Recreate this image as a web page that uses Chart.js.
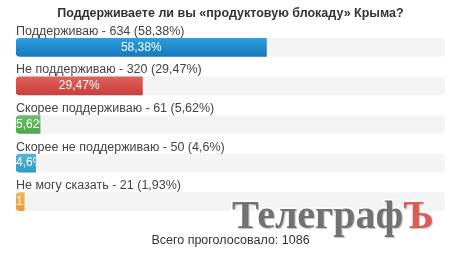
<!DOCTYPE html>
<html>
<head>
<meta charset="utf-8">
<script src="https://cdn.jsdelivr.net/npm/chart.js@4"></script>
<style>
  body { margin: 0; background: #fff; }
  #wrap { width: 450px; height: 253px; position: relative; }
</style>
</head>
<body>
<div id="wrap"><canvas id="pollChart"></canvas></div>
<script>
const title = "Поддерживаете ли вы «продуктовую блокаду» Крыма?";
const answers = ["Поддерживаю", "Не поддерживаю", "Скорее поддерживаю", "Скорее не поддерживаю", "Не могу сказать"];
const votes = [634, 320, 61, 50, 21];
const percents = [58.38, 29.47, 5.62, 4.6, 1.93];
const barTop = ["#2a9fe0", "#e0605b", "#67c067", "#55b5d8", "#f3b55c"];
const barBottom = ["#1679be", "#c9403b", "#4ca84c", "#319bc2", "#eb9d2f"];
const totalLabel = "Всего проголосовало: 1086";
const fullScale = answers.map(() => 100);

const fmt = v => String(v).replace(".", ",");
const FONT = "'Liberation Sans', Arial, sans-serif";

// vertical gradient per bar, like the bootstrap progress bars
function barFill(c) {
    const chart = c.chart;
    const i = c.dataIndex;
    if (!chart.chartArea || !chart.scales.y) return barTop[i];
    const y = chart.scales.y.getPixelForValue(i);
    const g = chart.ctx.createLinearGradient(0, y - 9, 0, y + 9);
    g.addColorStop(0, barTop[i]);
    g.addColorStop(1, barBottom[i]);
    return g;
}

const pollText = {
    id: "pollText",
    afterDatasetsDraw(chart) {
        const ctx = chart.ctx;
        const area = chart.chartArea;
        const cx = (area.left + area.right) / 2;
        const bars = chart.getDatasetMeta(1).data;
        ctx.save();
        ctx.textBaseline = "middle";

        // title
        ctx.fillStyle = "#333";
        ctx.font = "bold 12.5px " + FONT;
        ctx.textAlign = "center";
        ctx.fillText(title, cx, 14);

        bars.forEach((el, i) => {
            // answer label above the bar
            ctx.font = "12.5px " + FONT;
            ctx.fillStyle = "#444";
            ctx.textAlign = "left";
            ctx.fillText(answers[i] + " - " + votes[i] + " (" + fmt(percents[i]) + "%)", area.left, el.y - 16);

            // percent inside bar, clipped
            const left = Math.min(el.base, el.x);
            const w = Math.abs(el.x - el.base);
            const txt = fmt(percents[i]) + "%";
            ctx.font = "12px " + FONT;
            const tw = ctx.measureText(txt).width;
            ctx.save();
            ctx.beginPath();
            ctx.rect(left, el.y - el.height / 2, w, el.height);
            ctx.clip();
            ctx.fillStyle = "#fff";
            if (tw < w) {
                ctx.textAlign = "center";
                ctx.fillText(txt, left + w / 2, el.y);
            } else {
                ctx.textAlign = "left";
                ctx.fillText(txt, left, el.y);
            }
            ctx.restore();
        });

        // footer
        ctx.font = "12.5px " + FONT;
        ctx.fillStyle = "#333";
        ctx.textAlign = "center";
        ctx.fillText(totalLabel, cx, 241);

        // watermark
        ctx.font = "bold 40px 'Liberation Serif', 'Times New Roman', serif";
        ctx.textAlign = "left";
        ctx.textBaseline = "alphabetic";
        const wm1 = "Телеграф";
        const wm2 = "Ъ";
        const wx = 232, wy = 228;
        const w1 = ctx.measureText(wm1).width;
        ctx.lineWidth = 3;
        ctx.strokeStyle = "rgba(255,255,255,0.9)";
        ctx.strokeText(wm1, wx, wy);
        ctx.strokeText(wm2, wx + w1, wy);
        ctx.shadowColor = "rgba(0,0,0,0.25)";
        ctx.shadowOffsetX = 1;
        ctx.shadowOffsetY = 1;
        ctx.shadowBlur = 1;
        ctx.fillStyle = "#727272";
        ctx.fillText(wm1, wx, wy);
        ctx.fillStyle = "#e05a55";
        ctx.fillText(wm2, wx + w1, wy);
        ctx.restore();
    }
};

new Chart(document.getElementById("pollChart"), {
    type: "bar",
    data: {
        labels: answers,
        datasets: [{
            label: "track",
            data: fullScale,
            backgroundColor: "#f4f4f4",
            borderRadius: 4,
            borderSkipped: false,
            barThickness: 18,
            grouped: false,
            order: 2
        }, {
            label: "percent",
            data: percents,
            backgroundColor: barFill,
            borderRadius: { topLeft: 4, bottomLeft: 4, topRight: 0, bottomRight: 0 },
            borderSkipped: false,
            barThickness: 18,
            grouped: false,
            order: 1
        }]
    },
    options: {
        indexAxis: "y",
        responsive: true,
        maintainAspectRatio: false,
        animation: false,
        layout: { padding: { top: 28, bottom: 32, left: 16, right: 5 } },
        plugins: { legend: { display: false }, tooltip: { enabled: false } },
        scales: {
            x: { display: false, min: 0, max: 100 },
            y: { display: false }
        }
    },
    plugins: [pollText]
});
</script>
</body>
</html>
